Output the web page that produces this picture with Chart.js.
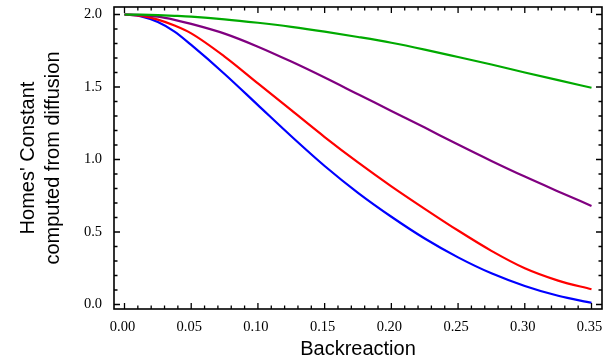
<!DOCTYPE html>
<html>
<head>
<meta charset="utf-8">
<script src="https://cdn.jsdelivr.net/npm/chart.js@4"></script>
<style>
  html, body { margin: 0; padding: 0; background: #ffffff; }
  canvas { display: block; }
</style>
</head>
<body>
<canvas id="c" width="612" height="363"></canvas>
<script>
// ---- data ----
const backreaction = [0, 0.0125, 0.025, 0.0375, 0.05, 0.075, 0.10, 0.125, 0.15, 0.175, 0.20, 0.225, 0.25, 0.275, 0.30, 0.325, 0.35];
const greenSeries  = [2.0, 1.999, 1.996, 1.991, 1.985, 1.967, 1.943, 1.915, 1.882, 1.845, 1.805, 1.758, 1.707, 1.655, 1.60, 1.547, 1.495];
const purpleSeries = [2.0, 1.996, 1.985, 1.963, 1.935, 1.868, 1.778, 1.675, 1.565, 1.45, 1.335, 1.22, 1.103, 0.99, 0.882, 0.78, 0.68];
const redSeries    = [2.0, 1.991, 1.965, 1.924, 1.87, 1.71, 1.525, 1.34, 1.155, 0.98, 0.815, 0.66, 0.51, 0.37, 0.25, 0.165, 0.105];
const blueSeries   = [2.0, 1.987, 1.948, 1.882, 1.79, 1.59, 1.375, 1.16, 0.955, 0.77, 0.605, 0.455, 0.325, 0.215, 0.128, 0.06, 0.012];
const xTickValues  = [0, 0.05, 0.10, 0.15, 0.20, 0.25, 0.30, 0.35];
const yTickValues  = [0, 0.5, 1.0, 1.5, 2.0];
const xMinorStep = 0.01;
const yMinorStep = 0.1;
const xTitle = 'Backreaction';
const yTitle = ["Homes' Constant", 'computed from diffusion'];

const toPoints = ys => backreaction.map((x, i) => ({ x: x, y: ys[i] }));

const serif = "'Liberation Serif', 'Times New Roman', serif";
const sans = "'Liberation Sans', Arial, sans-serif";

const framePlugin = {
  id: 'frameTicks',
  afterDraw(chart) {
    const { ctx, chartArea: a, scales } = chart;
    const xs = scales.x, ys = scales.y;
    ctx.save();
    ctx.strokeStyle = '#000';
    ctx.lineWidth = 1.3;
    const major = 6, minor = 3.5;
    for (let k = 0; k <= 35; k++) {
      const px = xs.getPixelForValue(k * xMinorStep);
      const len = (k % 5 === 0) ? major : minor;
      ctx.beginPath();
      ctx.moveTo(px, a.bottom); ctx.lineTo(px, a.bottom - len);
      ctx.moveTo(px, a.top); ctx.lineTo(px, a.top + len);
      ctx.stroke();
    }
    for (let k = 0; k <= 20; k++) {
      const py = ys.getPixelForValue(k * yMinorStep);
      const len = (k % 5 === 0) ? major : minor;
      ctx.beginPath();
      ctx.moveTo(a.left, py); ctx.lineTo(a.left + len, py);
      ctx.moveTo(a.right, py); ctx.lineTo(a.right - len, py);
      ctx.stroke();
    }
    ctx.lineWidth = 1.6;
    ctx.strokeRect(a.left, a.top, a.right - a.left, a.bottom - a.top);
    ctx.restore();
  }
};

new Chart(document.getElementById('c'), {
  type: 'line',
  data: {
    datasets: [
      { label: 'green', data: toPoints(greenSeries), borderColor: '#00AA00' },
      { label: 'purple', data: toPoints(purpleSeries), borderColor: '#800080' },
      { label: 'red', data: toPoints(redSeries), borderColor: '#FF0000' },
      { label: 'blue', data: toPoints(blueSeries), borderColor: '#0000FF' }
    ].map(d => Object.assign(d, {
      borderWidth: 2.2, pointRadius: 0, fill: false,
      cubicInterpolationMode: 'monotone'
    }))
  },
  options: {
    responsive: false,
    animation: false,
    devicePixelRatio: 1,
    layout: { padding: { top: 7, right: 10, left: 0, bottom: 0 } },
    plugins: { legend: { display: false }, tooltip: { enabled: false } },
    scales: {
      x: {
        type: 'linear',
        min: -0.00787,
        max: 0.35787,
        grid: { display: false, drawTicks: false },
        border: { display: false },
        afterBuildTicks: s => { s.ticks = xTickValues.map(v => ({ value: v })); },
        afterFit: s => { s.height = 54; s.paddingLeft = 0; s.paddingRight = 0; },
        ticks: {
          autoSkip: false,
          maxRotation: 0,
          padding: 9,
          labelOffset: -2,
          color: '#000',
          font: { family: serif, size: 14.5 },
          callback: v => Number(v).toFixed(2)
        },
        title: {
          display: true,
          text: xTitle,
          color: '#000',
          font: { family: sans, size: 20, lineHeight: 1.25 },
          padding: { top: 0, bottom: 1.5 }
        }
      },
      y: {
        type: 'linear',
        min: -0.031,
        max: 2.0517,
        grid: { display: false, drawTicks: false },
        border: { display: false },
        afterBuildTicks: s => { s.ticks = yTickValues.map(v => ({ value: v })); },
        afterFit: s => { s.width = 114; s.paddingTop = 0; s.paddingBottom = 0; },
        ticks: {
          autoSkip: false,
          padding: 12,
          color: '#000',
          font: { family: serif, size: 14.5 },
          callback: v => Number(v).toFixed(1)
        },
        title: {
          display: true,
          text: yTitle,
          color: '#000',
          font: { family: sans, size: 20, lineHeight: 1.25 },
          padding: { top: 15.5, bottom: 0 }
        }
      }
    }
  },
  plugins: [framePlugin]
});
</script>
</body>
</html>
